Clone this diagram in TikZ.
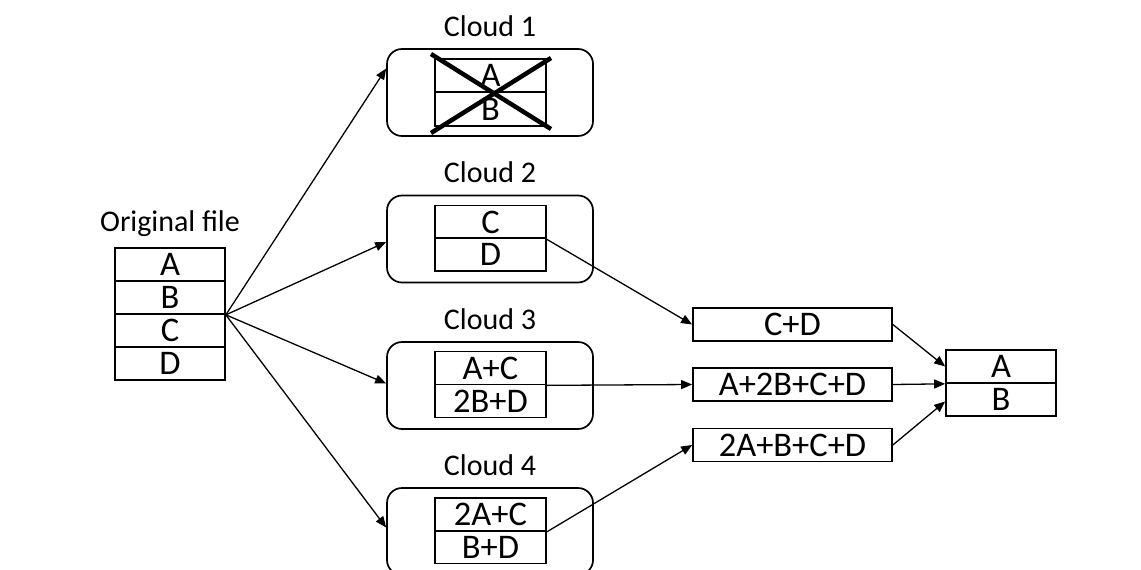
\documentclass[tikz,border=0pt]{standalone}
\usepackage{fontspec}
\setmainfont{Carlito}
\usetikzlibrary{arrows.meta,calc}
\begin{document}
\begin{tikzpicture}[x=1pt,y=-1pt,
  txt/.style={font=\fontsize{30}{36}\selectfont, inner sep=0pt},
  cell/.style={font=\fontsize{34.5}{40}\selectfont, inner sep=0pt, draw, line width=1.7pt, minimum height=33pt},
  narrow/.style={cell, minimum width=110pt},
  wide/.style={cell, minimum width=199pt},
  cloudbox/.style={draw, line width=1.7pt, rounded corners=15pt, minimum width=206pt, minimum height=87pt, inner sep=0pt},
  cloudlabel/.style={txt, anchor=base},
  arr/.style={line width=1.3pt, -{Triangle[length=11pt,width=9pt]}},
  cross/.style={line width=4.5pt}]
\useasboundingbox (0,0) rectangle (1141,570);

% original file
\node[cloudlabel] (olab) at (170,231) {Original file};
\node[narrow] (oA) at (170,264.5) {A};
\node[narrow] (oB) at (170,297.5) {B};
\node[narrow] (oC) at (170,330.5) {C};
\node[narrow] (oD) at (170,363.5) {D};

% clouds
\node[cloudbox] (cl1) at (490,92.5) {};
\node[cloudbox] (cl2) at (490,239) {};
\node[cloudbox] (cl3) at (490,385.5) {};
\node[cloudbox] (cl4) at (490,531.5) {};
\node[cloudlabel] (l1) at (490,36) {Cloud 1};
\node[cloudlabel] (l2) at (490,182.5) {Cloud 2};
\node[cloudlabel] (l3) at (490,329) {Cloud 3};
\node[cloudlabel] (l4) at (490,475) {Cloud 4};

\node[narrow, minimum width=111pt, minimum height=33.5pt] (c1a) at (490.5,75.5) {A};
\node[narrow, minimum width=111pt, minimum height=33.5pt] (c1b) at (490.5,109) {B};
\node[narrow, minimum width=111pt] (c2a) at (490.5,222) {C};
\node[narrow, minimum width=111pt] (c2b) at (490.5,254.5) {D};
\node[narrow, minimum width=111pt] (c3a) at (490.5,368) {A+C};
\node[narrow, minimum width=111pt] (c3b) at (490.5,401) {2B+D};
\node[narrow, minimum width=111pt] (c4a) at (490.5,514.5) {2A+C};
\node[narrow, minimum width=111pt] (c4b) at (490.5,547) {B+D};

% lost cloud
\draw[cross] (431,54) -- (551,129);
\draw[cross] (431,133) -- (551,58);

% decoded combinations
\node[wide] (cd) at (792.5,324.5) {C+D};
\node[wide] (abcd) at (792.5,384.5) {A+2B+C+D};
\node[wide] (aabcd) at (792.5,445) {2A+B+C+D};

% recovered file
\node[narrow] (fA) at (1001,366.5) {A};
\node[narrow] (fB) at (1001,399.5) {B};

% distribution
\draw[arr] (oB.south east) -- ($(cl1.west)+(0,-24)$);
\draw[arr] (oB.south east) -- ($(cl2.west)+(0,3)$);
\draw[arr] (oB.south east) -- ($(cl3.west)+(0,-2)$);
\draw[arr] (oB.south east) -- ($(cl4.west)+(0,-4)$);

% retrieval
\draw[arr] (c2a.south east) -- (cd.west);
\draw[arr] (c3a.south east) -- (abcd.west);
\draw[arr] (c4a.south east) -- (aabcd.west);

% reconstruction
\draw[arr] (cd.east) -- (fA.west);
\draw[arr] (abcd.east) -- (fA.south west);
\draw[arr] (aabcd.east) -- ($(fB.west)+(0,2)$);
\end{tikzpicture}
\end{document}
